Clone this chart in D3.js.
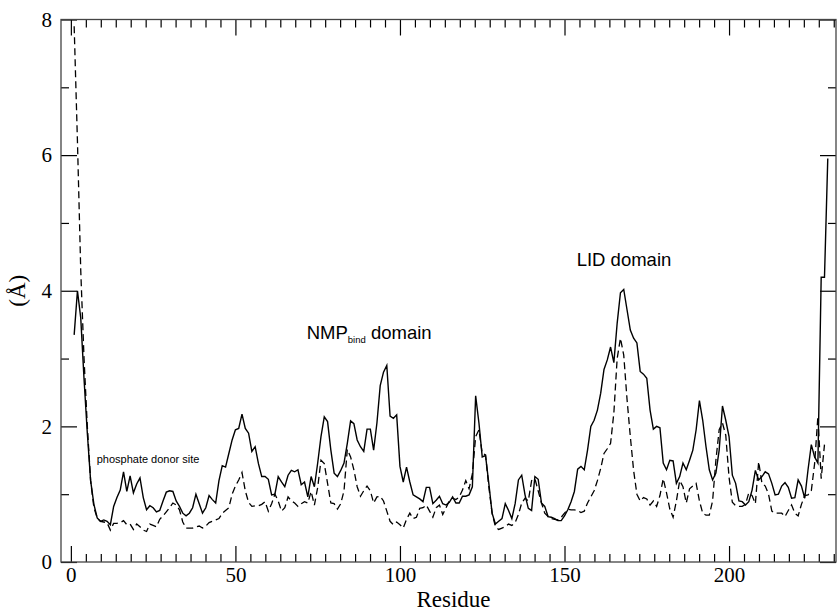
<!DOCTYPE html>
<html>
<head>
<meta charset="utf-8">
<script src="https://cdn.jsdelivr.net/npm/d3@7"></script>
<style>
  body { margin: 0; background: #fff; }
  svg { display: block; }
</style>
</head>
<body>
<div class="chart"></div>
<script>
// residue numbers 1..230
var residues = d3.range(1, 231);

// solid line
var rmsdSolid = [
  3.35, 4.0, 3.6, 2.7, 1.9, 1.2, 0.85, 0.65, 0.6, 0.62,
  0.6, 0.55, 0.82, 0.95, 1.06, 1.33, 1.04, 1.27, 1.02, 1.15,
  1.24, 0.95, 0.77, 0.83, 0.8, 0.74, 0.76, 0.9, 1.03, 1.05,
  1.04, 0.9, 0.82, 0.72, 0.68, 0.72, 0.8, 1.0, 0.86, 0.72,
  0.8, 0.98, 0.92, 0.87, 1.2, 1.42, 1.4, 1.6, 1.8, 1.95,
  1.97, 2.18, 1.97, 1.9, 1.63, 1.7, 1.45, 1.26, 1.26, 1.22,
  0.99, 1.0, 1.26, 1.18, 1.11, 1.28, 1.35, 1.33, 1.36, 1.14,
  1.18, 0.96, 1.26, 1.11, 1.46, 1.85, 2.14, 2.07, 1.65, 1.31,
  1.26, 1.35, 1.46, 1.75, 2.08, 2.04, 1.8, 1.7, 1.63, 1.96,
  1.96, 1.65, 2.05, 2.6, 2.8, 2.9, 2.15, 2.12, 2.17, 1.41,
  1.18, 1.4, 1.18, 0.99, 0.96, 0.93, 0.89, 1.1, 1.1, 0.86,
  0.91, 0.97, 0.86, 0.84, 0.88, 0.96, 0.87, 0.87, 0.97, 0.97,
  0.99, 1.11, 2.45, 2.05, 1.55, 1.57, 1.16, 0.72, 0.56, 0.6,
  0.64, 0.86, 0.76, 0.64, 0.86, 1.21, 1.28, 0.99, 0.79, 0.76,
  1.26, 1.22, 0.87, 0.82, 0.67, 0.66, 0.64, 0.61, 0.61, 0.68,
  0.77, 0.89, 1.04, 1.37, 1.41, 1.36, 1.65, 2.0, 2.09, 2.24,
  2.49, 2.84, 2.98, 3.17, 2.94, 3.52, 3.97, 4.02, 3.72, 3.42,
  3.3, 3.23, 2.81, 2.77, 2.71, 2.24, 1.96, 2.0, 1.98, 1.46,
  1.36, 1.5, 1.49, 1.16, 1.26, 1.46, 1.36, 1.5, 1.65, 1.95,
  2.38, 2.09, 1.7, 1.36, 1.21, 1.31, 1.65, 2.3, 2.09, 1.85,
  1.28, 1.16, 0.9, 0.89, 0.84, 0.89, 1.06, 1.35, 1.21, 1.26,
  1.33, 1.3, 1.16, 0.99, 1.0, 1.12, 1.17, 1.1, 0.94, 0.95,
  1.21, 1.12, 0.94, 1.36, 1.73, 1.55, 1.46, 4.2, 4.2, 5.95
];

// dashed line
var rmsdDashed = [
  7.9, 6.2, 4.3, 3.0, 2.0, 1.2, 0.8, 0.65, 0.6, 0.59,
  0.58, 0.47, 0.57, 0.57, 0.58, 0.61, 0.55, 0.56, 0.48, 0.56,
  0.52, 0.47, 0.45, 0.56, 0.54, 0.52, 0.63, 0.68, 0.74, 0.8,
  0.87, 0.84, 0.77, 0.59, 0.5, 0.5, 0.5, 0.52, 0.53, 0.5,
  0.53, 0.58, 0.6, 0.62, 0.64, 0.72, 0.76, 0.8, 1.0, 1.12,
  1.21, 1.32, 1.05, 0.88, 0.82, 0.83, 0.83, 0.85, 0.89, 0.75,
  0.86, 1.0, 0.9, 0.75, 0.8, 0.96, 0.9, 0.87, 0.82, 0.86,
  0.89, 0.87, 1.04, 0.84, 1.1, 1.5, 1.45, 1.16, 0.87, 0.86,
  0.78, 0.86, 1.05, 1.66, 1.55, 1.36, 1.11, 0.97, 1.05, 1.12,
  1.05, 0.87, 0.96, 0.97, 0.9, 0.75, 0.6, 0.55, 0.59, 0.55,
  0.5, 0.63, 0.72, 0.64, 0.66, 0.79, 0.8, 0.84, 0.75, 0.66,
  0.8, 0.84, 0.7, 0.8, 0.9, 0.94, 0.92, 0.96, 1.06, 1.2,
  1.08, 1.3, 1.85, 1.95, 1.6, 1.58, 1.11, 0.72, 0.52, 0.48,
  0.5, 0.52, 0.56, 0.54, 0.58, 0.7, 0.87, 0.94, 0.9, 1.2,
  1.23, 1.05, 0.87, 0.72, 0.67, 0.64, 0.63, 0.62, 0.66, 0.72,
  0.78, 0.77, 0.77, 0.76, 0.73, 0.75, 0.87, 0.96, 1.05, 1.2,
  1.38, 1.6, 1.67, 1.75, 2.2, 3.0, 3.3, 3.05, 2.4, 1.85,
  1.35, 1.0, 0.9, 0.95, 0.93, 0.84, 0.9, 0.82, 0.98, 1.23,
  1.02, 0.78, 0.66, 0.9, 1.2, 1.11, 0.87, 1.08, 1.12, 1.16,
  0.9, 0.72, 0.69, 0.69, 0.9, 1.5, 1.95, 2.05, 1.87, 1.25,
  0.88, 0.83, 0.82, 0.82, 0.85, 1.02, 0.98, 0.86, 1.48, 1.16,
  1.12, 1.0, 0.75, 0.72, 0.72, 0.72, 0.67, 0.76, 0.84, 0.72,
  0.68, 0.85, 0.98, 0.99, 1.05, 1.45, 2.15, 1.23, 1.73
];

var xMajorTicks = [0, 50, 100, 150, 200];
var yMajorTicks = [0, 2, 4, 6, 8];
var yMinorTicks = [1, 3, 5, 7];

var svgWidth = 838;
var svgHeight = 611;

var plot = { left: 61, right: 836, top: 19.5, bottom: 562 };

var svg = d3.select(".chart")
  .append("svg")
  .attr("width", svgWidth)
  .attr("height", svgHeight);

var xScale = d3.scaleLinear()
  .domain([-3, 232.5])
  .range([plot.left, plot.right]);

var yScale = d3.scaleLinear()
  .domain([0, 8])
  .range([plot.bottom, plot.top]);

// xmgrace style: 10 minor ticks between majors
var xMinorTicks = d3.range(0, 52).map(function(k) { return k * 50 / 11; })
  .filter(function(v, k) { return k % 11 !== 0 && v <= 232.5; });

function styleAxis(g) {
  g.select(".domain").remove();
  g.selectAll(".tick line").attr("stroke", "#000").attr("stroke-width", 1.2);
}

// bottom axis, ticks pointing inward
svg.append("g")
  .attr("transform", `translate(0, ${plot.bottom})`)
  .call(d3.axisBottom(xScale).tickValues(xMinorTicks).tickSize(-8).tickFormat(""))
  .call(styleAxis);

svg.append("g")
  .attr("transform", `translate(0, ${plot.bottom})`)
  .call(d3.axisBottom(xScale).tickValues(xMajorTicks).tickSize(-16).tickPadding(5).tickFormat(d3.format("d")))
  .call(styleAxis)
  .selectAll("text")
  .attr("font-family", "'Liberation Serif', 'Times New Roman', serif")
  .attr("font-size", 21)
  .attr("fill", "#000");

// top axis
svg.append("g")
  .attr("transform", `translate(0, ${plot.top})`)
  .call(d3.axisTop(xScale).tickValues(xMinorTicks).tickSize(-8).tickFormat(""))
  .call(styleAxis);

svg.append("g")
  .attr("transform", `translate(0, ${plot.top})`)
  .call(d3.axisTop(xScale).tickValues(xMajorTicks).tickSize(-16).tickFormat(""))
  .call(styleAxis);

// left axis
svg.append("g")
  .attr("transform", `translate(${plot.left}, 0)`)
  .call(d3.axisLeft(yScale).tickValues(yMinorTicks).tickSize(-8).tickFormat(""))
  .call(styleAxis);

svg.append("g")
  .attr("transform", `translate(${plot.left}, 0)`)
  .call(d3.axisLeft(yScale).tickValues(yMajorTicks).tickSize(-16).tickPadding(9).tickFormat(d3.format("d")))
  .call(styleAxis)
  .selectAll("text")
  .attr("font-family", "'Liberation Serif', 'Times New Roman', serif")
  .attr("font-size", 21)
  .attr("fill", "#000");

// right axis
svg.append("g")
  .attr("transform", `translate(${plot.right}, 0)`)
  .call(d3.axisRight(yScale).tickValues(yMinorTicks).tickSize(-8).tickFormat(""))
  .call(styleAxis);

svg.append("g")
  .attr("transform", `translate(${plot.right}, 0)`)
  .call(d3.axisRight(yScale).tickValues(yMajorTicks).tickSize(-16).tickFormat(""))
  .call(styleAxis);

// frame
svg.append("rect")
  .attr("x", plot.left)
  .attr("y", plot.top)
  .attr("width", plot.right - plot.left)
  .attr("height", plot.bottom - plot.top)
  .attr("fill", "none")
  .attr("stroke", "#444")
  .attr("stroke-width", 1.3);

// lines
var line = d3.line()
  .x(function(d) { return xScale(d[0]); })
  .y(function(d) { return yScale(d[1]); });

svg.append("path")
  .datum(residues.slice(0, rmsdDashed.length).map(function(r, i) { return [r, rmsdDashed[i]]; }))
  .attr("d", line)
  .attr("fill", "none")
  .attr("stroke", "#000")
  .attr("stroke-width", 1.3)
  .attr("stroke-dasharray", "7,4");

svg.append("path")
  .datum(residues.map(function(r, i) { return [r, rmsdSolid[i]]; }))
  .attr("d", line)
  .attr("fill", "none")
  .attr("stroke", "#000")
  .attr("stroke-width", 1.4);

// axis labels
svg.append("text")
  .attr("transform", `translate(${(plot.left + plot.right) / 2 + 5}, 607)`)
  .attr("text-anchor", "middle")
  .attr("font-family", "'Liberation Serif', 'Times New Roman', serif")
  .attr("font-size", 23)
  .text("Residue");

svg.append("text")
  .attr("transform", `translate(25, ${(plot.top + plot.bottom) / 2}) rotate(-90)`)
  .attr("text-anchor", "middle")
  .attr("font-family", "'Liberation Serif', 'Times New Roman', serif")
  .attr("font-size", 23)
  .text("(Å)");

// annotations
var sans = "'Liberation Sans', Arial, Helvetica, sans-serif";

svg.append("text")
  .attr("x", 96.7)
  .attr("y", 462.7)
  .attr("font-family", sans)
  .attr("font-size", 11)
  .text("phosphate donor site");

var nmp = svg.append("text")
  .attr("x", 306.7)
  .attr("y", 339.3)
  .attr("font-family", sans)
  .attr("font-size", 18.5);
nmp.append("tspan").text("NMP");
nmp.append("tspan").attr("font-size", 9.5).attr("dy", 3.4).text("bind");
nmp.append("tspan").attr("dy", -3.4).text(" domain");

svg.append("text")
  .attr("x", 576.7)
  .attr("y", 265.7)
  .attr("font-family", sans)
  .attr("font-size", 18.5)
  .text("LID domain");
</script>
</body>
</html>
